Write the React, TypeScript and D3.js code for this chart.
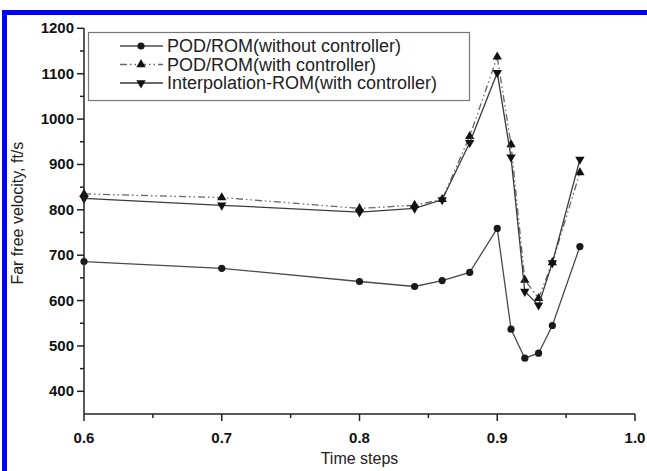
import React from 'react';
import * as d3 from 'd3';

// time steps shared by all three runs
const timeSteps = [0.6, 0.7, 0.8, 0.84, 0.86, 0.88, 0.9, 0.91, 0.92, 0.93, 0.94, 0.96];
const podWithout = [686, 671, 642, 631, 644, 662, 759, 537, 473, 484, 545, 719];
const podWith = [835, 827, 803, 810, 823, 962, 1137, 944, 645, 605, 684, 882];
const interpWith = [825, 810, 795, 803, 822, 948, 1102, 916, 620, 590, 683, 911];

const xTicks = [0.6, 0.7, 0.8, 0.9, 1.0];
const yTicks = [400, 500, 600, 700, 800, 900, 1000, 1100, 1200];

const legendLabels = [
  'POD/ROM(without controller)',
  'POD/ROM(with controller)',
  'Interpolation-ROM(with controller)',
];

const W = 647;
const H = 471;
const margin = { top: 29, right: 12, bottom: 57, left: 84 };
const font = 'Liberation Sans, Arial, sans-serif';

const App = () => {
  const x = d3.scaleLinear().domain([0.6, 1.0]).range([margin.left, W - margin.right]);
  const y = d3.scaleLinear().domain([350, 1200]).range([H - margin.bottom, H - margin.bottom - (850 / 800) * 363]);

  const line = (vals: number[]) =>
    d3.line<number>().x((_, i) => x(timeSteps[i])).y(d => y(d))(vals) || '';

  const tri = d3.symbol().type(d3.symbolTriangle).size(38)() || '';

  const series = [
    { vals: podWithout, color: '#4a4a4a', dash: null as string | null, marker: 'circle' },
    { vals: podWith, color: '#666', dash: '7,3,1.5,3,1.5,3', marker: 'up' },
    { vals: interpWith, color: '#3a3a3a', dash: null, marker: 'down' },
  ];

  const marker = (kind: string, cx: number, cy: number, key: any) => {
    if (kind === 'circle') return <circle key={key} cx={cx} cy={cy} r={3.6} fill="#1a1a1a" />;
    const rot = kind === 'down' ? 180 : 0;
    return <path key={key} d={tri} transform={`translate(${cx},${cy}) rotate(${rot})`} fill="#111" />;
  };

  const x0 = x.range()[0];
  const yBottom = y(350);
  const yTop = y(1200);
  const minorX = d3.range(0.65, 1.0, 0.1);
  const minorY = d3.range(450, 1200, 100);

  return (
    <svg width={W} height={H} style={{ position: 'absolute', left: 0, top: 0, background: '#fff', overflow: 'hidden' }}>
      {/* blue frame: only top and left edges show */}
      <rect x={2} y={10} width={W} height={5} fill="#0000ff" />
      <rect x={2} y={10} width={5} height={H} fill="#0000ff" />

      {/* series */}
      {series.map((s, si) => (
        <g key={si}>
          <path d={line(s.vals)} fill="none" stroke={s.color} strokeWidth={1.3} strokeDasharray={s.dash || undefined} />
          {s.vals.map((v, i) => marker(s.marker, x(timeSteps[i]), y(v), i))}
        </g>
      ))}

      {/* axes */}
      <g stroke="#222" strokeWidth={1.5}>
        <line x1={x0} x2={x0} y1={yTop} y2={yBottom} />
        <line x1={x0} x2={x.range()[1]} y1={yBottom} y2={yBottom} />
        {xTicks.map(t => <line key={t} x1={x(t)} x2={x(t)} y1={yBottom} y2={yBottom + 7} />)}
        {minorX.map(t => <line key={t} x1={x(t)} x2={x(t)} y1={yBottom} y2={yBottom + 4} />)}
        {yTicks.map(t => <line key={t} x1={x0 - 7} x2={x0} y1={y(t)} y2={y(t)} />)}
        {minorY.map(t => <line key={t} x1={x0 - 4} x2={x0} y1={y(t)} y2={y(t)} />)}
      </g>
      <g fontFamily={font} fontWeight="bold" fontSize={15} fill="#111">
        {xTicks.map(t => (
          <text key={t} x={x(t)} y={yBottom + 29} textAnchor="middle">{t.toFixed(1)}</text>
        ))}
        {yTicks.map(t => (
          <text key={t} x={x0 - 10} y={y(t) + 5} textAnchor="end">{t}</text>
        ))}
      </g>
      <text x={(x.range()[0] + x.range()[1]) / 2} y={464} textAnchor="middle" fontFamily={font} fontSize={16} fill="#222">
        Time steps
      </text>
      <text transform={`translate(23,${(yTop + yBottom) / 2 - 8}) rotate(-90)`} textAnchor="middle" fontFamily={font} fontSize={16} fill="#222">
        Far free velocity, ft/s
      </text>

      {/* legend */}
      <rect x={88.5} y={32.5} width={381} height={68} fill="#fff" stroke="#777" strokeWidth={1.2} />
      {series.map((s, i) => {
        const ly = 46 + i * 18.5;
        return (
          <g key={i}>
            <line x1={120} x2={163} y1={ly} y2={ly} stroke={s.color} strokeWidth={1.3} strokeDasharray={s.dash || undefined} />
            {marker(s.marker, 141, ly, 'm')}
            <text x={167} y={ly + 6} fontFamily={font} fontSize={18} fill="#222">{legendLabels[i]}</text>
          </g>
        );
      })}
    </svg>
  );
};

export default App;
